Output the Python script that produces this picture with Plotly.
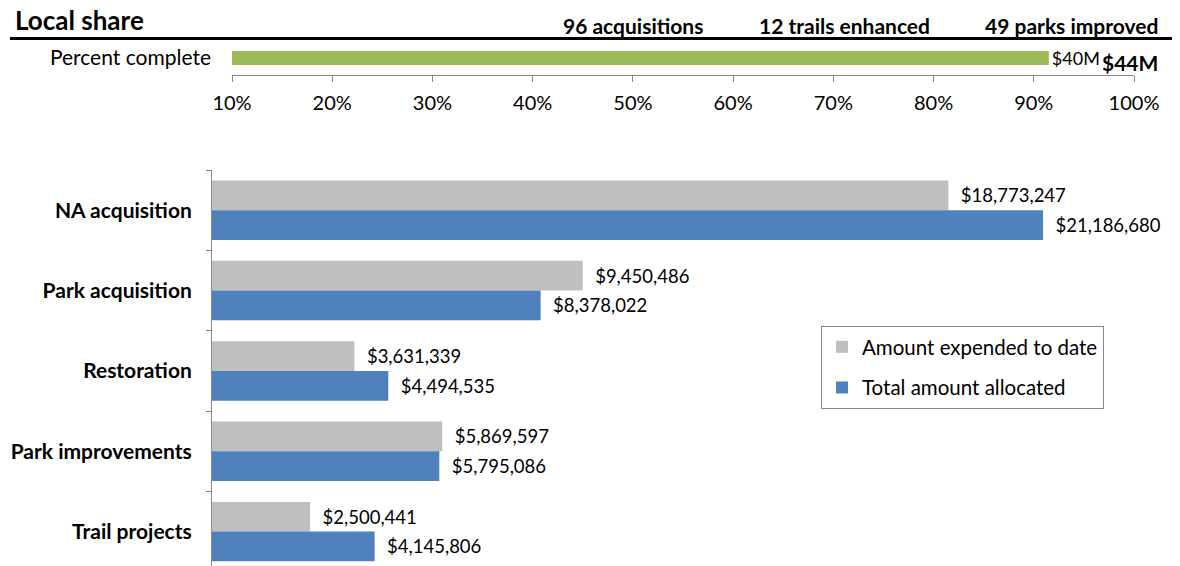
import plotly.graph_objects as go

W, H = 1180, 566
FONT = "Lato"

# ---- data ----
categories = ["NA acquisition", "Park acquisition", "Restoration", "Park improvements", "Trail projects"]
expended = [18773247, 9450486, 3631339, 5869597, 2500441]
allocated = [21186680, 8378022, 4494535, 5795086, 4145806]
series_names = ["Amount expended to date", "Total amount allocated"]

progress_label = "Percent complete"
progress_pct = [91.5]
progress_text = ["$40M"]
progress_total = "$44M"
pct_ticks = [10, 20, 30, 40, 50, 60, 70, 80, 90, 100]
headline_stats = ["96 acquisitions", "12 trails enhanced", "49 parks improved"]
title_text = "Local share"

GRAY = "#BFBFBF"
BLUE = "#4F81BD"
GREEN = "#9BBB59"
AXIS = "#868686"

def px(x):
    return x / W

def py(y):
    return 1 - y / H

fig = go.Figure()

# ---- top progress bar ----
fig.add_trace(go.Bar(
    x=progress_pct, y=[0], orientation="h", width=0.82,
    marker=dict(color=GREEN, line=dict(width=0)),
    text=progress_text, textposition="outside", cliponaxis=False, constraintext="none",
    textfont=dict(family=FONT, size=18, color="#000"),
    xaxis="x", yaxis="y", showlegend=False, hoverinfo="skip",
))

# ---- bottom grouped bars ----
fmt = lambda v: "\u00a0\u00a0$" + f"{v:,}"
for name, vals, col in zip(series_names, [expended, allocated], [GRAY, BLUE]):
    fig.add_trace(go.Bar(
        name=name, x=vals, y=categories, orientation="h", legendgroup=name,
        marker=dict(color=col, line=dict(width=0)),
        text=[fmt(v) for v in vals], textposition="outside", cliponaxis=False,
        constraintext="none",
        textfont=dict(family=FONT, size=18.5, color="#000"),
        xaxis="x2", yaxis="y2",
    ))

annotations = [
    dict(text="<b>" + title_text + "</b>", x=px(13), y=py(20), xanchor="left", yanchor="middle",
         showarrow=False, font=dict(family=FONT, size=26, color="#000"), xref="paper", yref="paper"),
    dict(text="<b>" + progress_total + "</b>", x=px(1130), y=py(62), xanchor="center", yanchor="middle",
         showarrow=False, font=dict(family=FONT, size=21, color="#000"), xref="paper", yref="paper"),
]
for label, cx in zip(headline_stats, [633, 844, 1071]):
    annotations.append(dict(text="<b>" + label + "</b>", x=px(cx), y=py(26), xanchor="center",
                            yanchor="middle", showarrow=False,
                            font=dict(family=FONT, size=21, color="#000"),
                            xref="paper", yref="paper"))

fig.update_layout(
    template="none",
    width=W, height=H, margin=dict(l=0, r=0, t=0, b=0, autoexpand=False),
    paper_bgcolor="white", plot_bgcolor="white",
    font=dict(family=FONT, color="#000"),
    barmode="group", bargap=0.26, bargroupgap=0.0,
    xaxis=dict(domain=[px(232), px(1134)], range=[10, 100], anchor="y", automargin=False,
               tickvals=pct_ticks, ticktext=[f"{t}%" for t in pct_ticks],
               showline=True, linecolor=AXIS, linewidth=1,
               ticks="outside", ticklen=6, tickcolor=AXIS,
               ticklabelstandoff=4,
               tickfont=dict(family=FONT, size=20, color="#000"),
               showgrid=False, zeroline=False, fixedrange=True),
    yaxis=dict(domain=[py(75), py(41)], range=[-1, 1], anchor="x", automargin=False,
               tickvals=[0], ticktext=[progress_label], ticks="",
               ticklabelstandoff=20,
               tickfont=dict(family=FONT, size=21, color="#000"),
               showline=False, showgrid=False, zeroline=False, fixedrange=True),
    xaxis2=dict(domain=[px(212), px(1173)], range=[0, 24.5e6], anchor="y2", automargin=False,
                visible=False, fixedrange=True),
    yaxis2=dict(domain=[0, py(170)], anchor="x2", type="category", automargin=False,
                categoryorder="array", categoryarray=categories,
                range=[4.428, -0.5], tickson="boundaries",
                showline=True, linecolor=AXIS, linewidth=1,
                ticks="outside", ticklen=5, tickcolor=AXIS,
                ticklabelstandoff=15,
                tickfont=dict(family=FONT, size=21, color="#000", weight="bold"),
                showgrid=False, zeroline=False, fixedrange=True),
    legend=dict(x=px(821), y=py(326), xanchor="left", yanchor="top",
                bordercolor=AXIS, borderwidth=1, bgcolor="white",
                font=dict(family=FONT, size=20.5, color="#000"),
                tracegroupgap=11, traceorder="grouped", itemsizing="constant"),
    annotations=annotations,
    shapes=[dict(type="line", xref="paper", yref="paper", x0=px(10), x1=px(1172),
                 y0=py(38.5), y1=py(38.5), line=dict(color="#000", width=3))],
)

fig.write_html("out.html", config={"displayModeBar": False},
               post_script="document.body.style.margin='0px';")
